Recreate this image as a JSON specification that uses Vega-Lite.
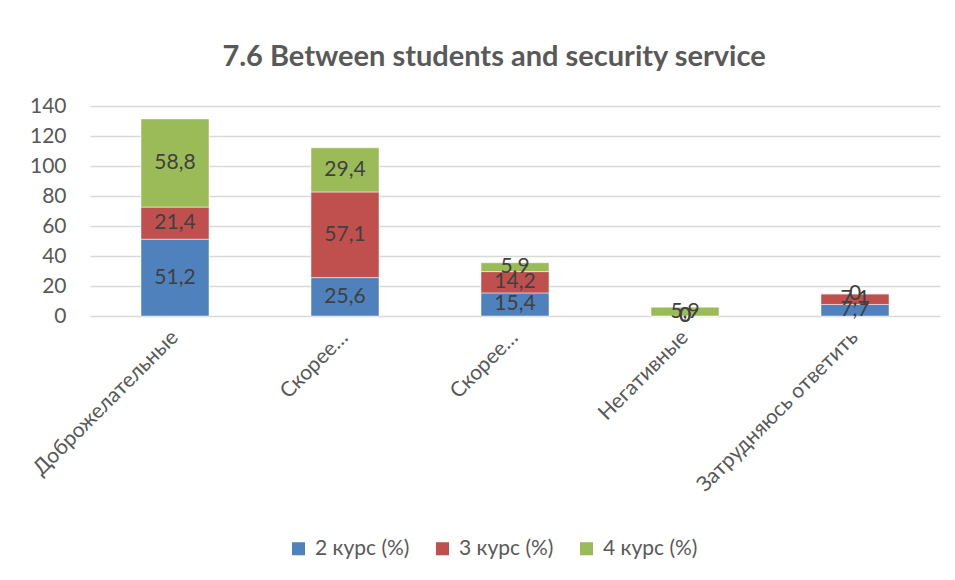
{
  "$schema": "https://vega.github.io/schema/vega-lite/v6.json",
  "autosize": {"type": "none"},
  "width": 850,
  "height": 210,
  "padding": {"left": 90, "top": 106, "right": 15, "bottom": 264},
  "background": "white",
  "title": {
    "text": "7.6 Between students and security service",
    "font": "Lato",
    "fontSize": 29,
    "fontWeight": "bold",
    "color": "#595959",
    "anchor": "middle",
    "dx": -21,
    "offset": 23
  },
  "config": {
    "view": {"stroke": null},
    "locale": {"number": {"decimal": ",", "thousands": " ", "grouping": [3], "currency": ["", ""]}},
    "axis": {"labelFont": "Lato", "labelColor": "#595959"},
    "axisY": {
      "labelOverlap": false,
      "grid": true,
      "gridColor": "#d9d9d9",
      "gridWidth": 1.5,
      "domain": false,
      "ticks": false,
      "labelFontSize": 21,
      "labelPadding": 24
    },
    "legend": {"labelFont": "Lato", "labelColor": "#595959"}
  },
  "data": {
    "values": [
      {"cat": "Доброжелательные", "course": "2 курс (%)", "k": 1, "value": 51.2},
      {"cat": "Доброжелательные", "course": "3 курс (%)", "k": 2, "value": 21.4},
      {"cat": "Доброжелательные", "course": "4 курс (%)", "k": 3, "value": 58.8},
      {"cat": "Скорее доброжелательные", "course": "2 курс (%)", "k": 1, "value": 25.6},
      {"cat": "Скорее доброжелательные", "course": "3 курс (%)", "k": 2, "value": 57.1},
      {"cat": "Скорее доброжелательные", "course": "4 курс (%)", "k": 3, "value": 29.4},
      {"cat": "Скорее негативные", "course": "2 курс (%)", "k": 1, "value": 15.4},
      {"cat": "Скорее негативные", "course": "3 курс (%)", "k": 2, "value": 14.2},
      {"cat": "Скорее негативные", "course": "4 курс (%)", "k": 3, "value": 5.9},
      {"cat": "Негативные", "course": "2 курс (%)", "k": 1, "value": 0},
      {"cat": "Негативные", "course": "3 курс (%)", "k": 2, "value": 0},
      {"cat": "Негативные", "course": "4 курс (%)", "k": 3, "value": 5.9},
      {"cat": "Затрудняюсь ответить", "course": "2 курс (%)", "k": 1, "value": 7.7},
      {"cat": "Затрудняюсь ответить", "course": "3 курс (%)", "k": 2, "value": 7.1},
      {"cat": "Затрудняюсь ответить", "course": "4 курс (%)", "k": 3, "value": 0}
    ]
  },
  "transform": [
    {"stack": "value", "groupby": ["cat"], "sort": [{"field": "k", "order": "ascending"}], "as": ["v0", "v1"]},
    {"calculate": "(datum.v0 + datum.v1) / 2", "as": "mid"}
  ],
  "encoding": {
    "x": {
      "field": "cat",
      "type": "nominal",
      "sort": ["Доброжелательные", "Скорее доброжелательные", "Скорее негативные", "Негативные", "Затрудняюсь ответить"],
      "scale": {"paddingInner": 0.6, "paddingOuter": 0.3},
      "axis": {
        "title": null,
        "labelAngle": -45,
        "labelAlign": "right",
        "labelBaseline": "middle",
        "labelFontSize": 21,
        "labelPadding": 18,
        "labelOverlap": false,
        "labelLimit": 400,
        "ticks": false,
        "domain": false,
        "labelExpr": "indexof(datum.label, 'Скорее') === 0 ? 'Скорее…' : datum.label"
      }
    }
  },
  "layer": [
    {
      "mark": {"type": "bar"},
      "encoding": {
        "y": {
          "field": "v0",
          "type": "quantitative",
          "scale": {"domain": [0, 140], "nice": false},
          "axis": {"title": null, "values": [0, 20, 40, 60, 80, 100, 120, 140]}
        },
        "y2": {"field": "v1"},
        "color": {
          "field": "course",
          "type": "nominal",
          "scale": {"domain": ["2 курс (%)", "3 курс (%)", "4 курс (%)"], "range": ["#4F81BD", "#C0504D", "#9BBB59"]},
          "legend": {
            "title": null,
            "orient": "none",
            "direction": "horizontal",
            "legendX": 198,
            "legendY": 432,
            "symbolType": "square",
            "symbolSize": 170,
            "symbolStrokeWidth": 0,
            "labelFontSize": 21,
            "labelOffset": 6,
            "columnPadding": 22,
            "symbolOffset": 0
          }
        },
        "stroke": {"value": "white"},
        "strokeWidth": {"value": 0.5}
      }
    },
    {
      "mark": {"type": "text", "font": "Lato", "fontSize": 21, "color": "#404040", "baseline": "middle"},
      "encoding": {
        "y": {
          "field": "mid",
          "type": "quantitative",
          "axis": {"title": null, "values": [0, 20, 40, 60, 80, 100, 120, 140]}
        },
        "text": {"field": "value", "type": "quantitative", "format": ".1~f"}
      }
    }
  ]
}
